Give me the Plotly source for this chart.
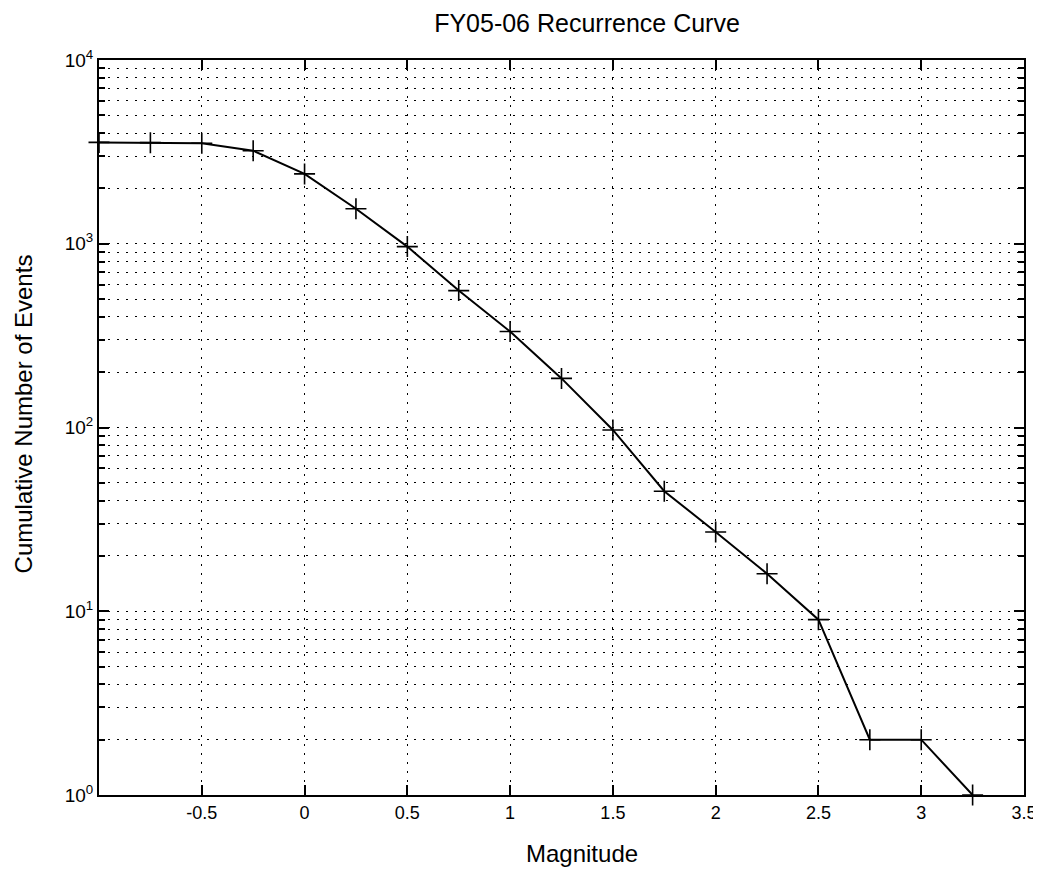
import plotly.graph_objects as go

# Data
magnitude = [-1.0, -0.75, -0.5, -0.25, 0.0, 0.25, 0.5, 0.75, 1.0, 1.25, 1.5, 1.75,
             2.0, 2.25, 2.5, 2.75, 3.0, 3.25]
cum_events = [3560, 3550, 3520, 3210, 2400, 1550, 965, 556, 333, 185, 97, 45,
              27, 16, 9, 2, 2, 1]

x_tick_vals = [-0.5, 0, 0.5, 1, 1.5, 2, 2.5, 3, 3.5]
x_tick_text = ["-0.5", "0", "0.5", "1", "1.5", "2", "2.5", "3", "3.5"]
y_tick_vals = [1, 10, 100, 1000, 10000]
y_tick_text = ["10<sup>0</sup>", "10<sup>1</sup>", "10<sup>2</sup>",
               "10<sup>3</sup>", "10<sup>4</sup>"]

FONT = "Liberation Sans, Arial, sans-serif"
GRID_DASH = "2px,7px"

# page body has an 8px margin, so the figure is sized to fit the window
W, H = 1033, 866

fig = go.Figure()
fig.add_trace(go.Scatter(
    x=magnitude, y=cum_events, mode="lines+markers",
    line=dict(color="black", width=2),
    marker=dict(symbol="cross-thin", size=15, color="black",
                line=dict(color="black", width=1.6)),
    cliponaxis=False, showlegend=False,
))

fig.update_layout(
    width=W, height=H,
    paper_bgcolor="white", plot_bgcolor="white",
    margin=dict(l=91, r=17, t=52, b=79, autoexpand=False),
    font=dict(family=FONT, color="black", size=18),
    title=dict(text="FY05-06 Recurrence Curve", font=dict(size=25, family=FONT),
               x=579 / W, xref="container", xanchor="center",
               y=1 - 15 / H, yref="container", yanchor="middle"),
    annotations=[
        dict(text="Magnitude", xref="paper", yref="paper",
             x=0.522, y=-0.080, xanchor="center", yanchor="middle",
             showarrow=False, font=dict(size=24)),
        dict(text="Cumulative Number of Events", xref="paper", yref="paper",
             x=-0.082, y=0.518, xanchor="center", yanchor="middle",
             textangle=-90, showarrow=False, font=dict(size=24)),
    ],
)

fig.update_xaxes(
    range=[-1, 3.5], tickvals=x_tick_vals, ticktext=x_tick_text,
    ticks="inside", ticklen=10, tickwidth=1.5, tickcolor="black",
    showline=True, linecolor="black", linewidth=2, mirror="ticks",
    showgrid=True, gridcolor="black", gridwidth=1, griddash=GRID_DASH,
    zeroline=False, tickfont=dict(size=18), automargin=False,
)

fig.update_yaxes(
    type="log", range=[0, 4], tickvals=y_tick_vals, ticktext=y_tick_text,
    ticks="inside", ticklen=10, tickwidth=1.5, tickcolor="black",
    showline=True, linecolor="black", linewidth=2, mirror="ticks",
    showgrid=True, gridcolor="black", gridwidth=1, griddash=GRID_DASH,
    zeroline=False, tickfont=dict(size=19), automargin=False,
    minor=dict(dtick="D1", ticks="inside", ticklen=6, tickcolor="black",
               showgrid=True, gridcolor="black", gridwidth=1, griddash=GRID_DASH),
)

fig.write_html("out.html")
